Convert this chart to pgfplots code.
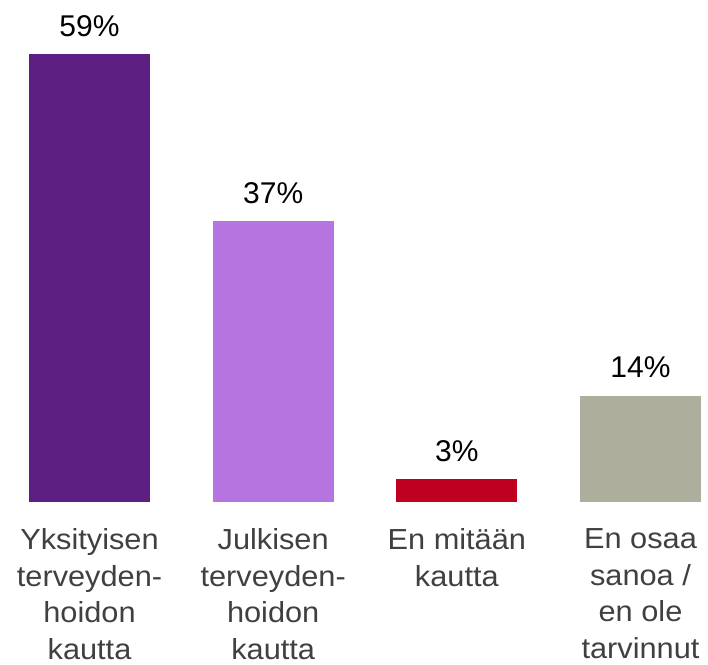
\documentclass[border=0pt]{standalone}
\usepackage{fontspec}
\setmainfont{Liberation Sans}
\newfontfamily\labfont[FakeStretch=1.06]{Liberation Sans}
\usepackage{pgfplots}
\pgfplotsset{compat=1.18}
\definecolor{c1}{HTML}{5E1F83}
\definecolor{c2}{HTML}{B574E0}
\definecolor{c3}{HTML}{C00020}
\definecolor{c4}{HTML}{ADAE9C}
\definecolor{lab}{HTML}{404040}
\begin{document}
\begin{tikzpicture}
\begin{axis}[
  at={(0pt,0pt)}, anchor=south west,
  scale only axis, width=708pt, height=502pt,
  xmin=-0.4873, xmax=3.3675, ymin=0, ymax=66.11,
  hide y axis,
  axis x line*=bottom,
  x axis line style={draw=none},
  major tick length=0pt,
  clip=false,
  /pgf/number format/assume math mode=true,
  ybar=0pt, bar width=121pt, bar shift=0pt,
  xtick={0,1,2,3},
  xticklabels={{Yksityisen\\terveyden-\\hoidon\\kautta},{Julkisen\\terveyden-\\hoidon\\kautta},{En mitään\\kautta},{En osaa\\sanoa /\\en ole\\tarvinnut}},
  xticklabel style={font=\labfont\fontsize{29}{36.6}\selectfont, text=lab, align=center, anchor=north, yshift=-23pt},
  nodes near coords={\pgfmathprintnumber{\pgfplotspointmeta}\%},
  nodes near coords style={font=\fontsize{30}{34}\selectfont, text=black, anchor=south, yshift=14pt},
]
\addplot[fill=c1, draw=none] coordinates {(0,59)};
\addplot[fill=c2, draw=none] coordinates {(1,37)};
\addplot[fill=c3, draw=none] coordinates {(2,3)};
\addplot[fill=c4, draw=none] coordinates {(3,14)};
\end{axis}
\pgfresetboundingbox
\path (0pt,-162pt) rectangle (708pt,502pt);
\end{tikzpicture}
\end{document}
